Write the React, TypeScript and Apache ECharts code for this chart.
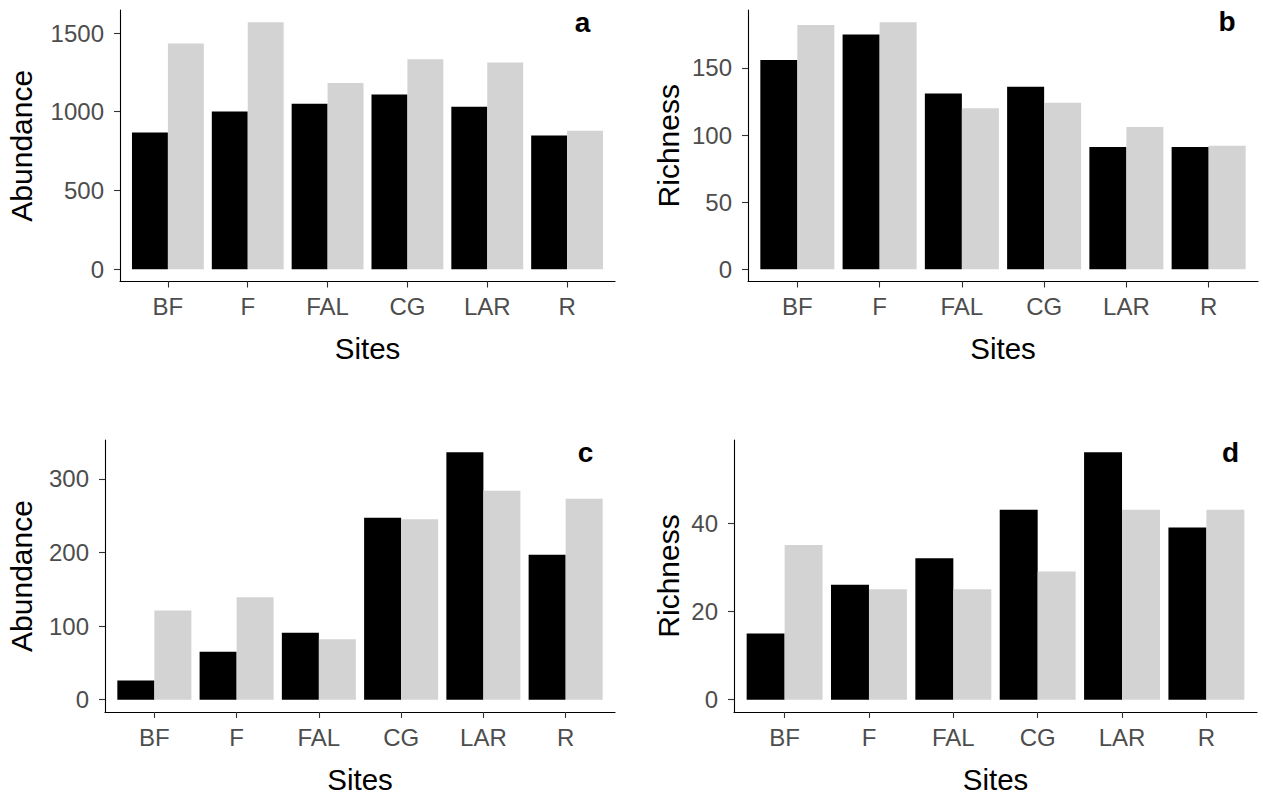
import React, { useEffect, useRef } from "react";
import * as echarts from "echarts";

const sites = ["BF", "F", "FAL", "CG", "LAR", "R"];

const abundanceA1 = [868, 1002, 1051, 1110, 1032, 849];
const abundanceA2 = [1434, 1568, 1182, 1333, 1313, 879];
const richnessB1 = [156, 175, 131, 136, 91, 91];
const richnessB2 = [182, 184, 120, 124, 106, 92];
const abundanceC1 = [26, 65, 91, 247, 336, 197];
const abundanceC2 = [121, 139, 82, 245, 284, 273];
const richnessD1 = [15, 26, 32, 43, 56, 39];
const richnessD2 = [35, 25, 25, 29, 43, 43];

const ticksA = [0, 500, 1000, 1500];
const ticksB = [0, 50, 100, 150];
const ticksC = [0, 100, 200, 300];
const ticksD = [0, 20, 40];

const FONT = "'Liberation Sans', Arial, Helvetica, sans-serif";

const panels = [
  { left: 120, top: 10, width: 495, height: 271.5, yName: "Abundance", nameGap: 84, ticks: ticksA, s1: abundanceA1, s2: abundanceA2, letter: "a", lx: 582.5, ly: 22 },
  { left: 748, top: 10, width: 510, height: 271.5, yName: "Richness", nameGap: 65, ticks: ticksB, s1: richnessB1, s2: richnessB2, letter: "b", lx: 1227, ly: 21 },
  { left: 105, top: 440, width: 510, height: 272, yName: "Abundance", nameGap: 69, ticks: ticksC, s1: abundanceC1, s2: abundanceC2, letter: "c", lx: 585.5, ly: 452 },
  { left: 734, top: 440, width: 523, height: 272, yName: "Richness", nameGap: 51, ticks: ticksD, s1: richnessD1, s2: richnessD2, letter: "d", lx: 1230.5, ly: 452 },
];

const catPositions = sites.map((_, i) => i + 1);

export default function App() {
  const ref = useRef<HTMLDivElement>(null);
  useEffect(() => {
    if (!ref.current) return;
    const chart = echarts.init(ref.current, undefined, { renderer: "svg" });
    const grids: any[] = [];
    const xAxes: any[] = [];
    const yAxes: any[] = [];
    const series: any[] = [];
    const graphics: any[] = [];
    panels.forEach((p, i) => {
      const dataMax = Math.max(...p.s1, ...p.s2);
      grids.push({ left: p.left, top: p.top, width: p.width, height: p.height, containLabel: false });
      xAxes.push({
        type: "value",
        gridIndex: i,
        min: 0.4,
        max: 6.6,
        splitLine: { show: false },
        axisLine: { show: true, onZero: false, lineStyle: { color: "#000", width: 1.1 } },
        axisTick: { show: true, length: 6, customValues: catPositions, lineStyle: { color: "#333", width: 1.1 } },
        axisLabel: {
          customValues: catPositions,
          formatter: (v: number) => sites[Math.round(v) - 1] ?? "",
          margin: 13,
          fontSize: 24,
          color: "#4D4D4D",
          fontFamily: FONT,
        },
        name: "Sites",
        nameLocation: "middle",
        nameGap: 52,
        nameTextStyle: { fontSize: 29.5, color: "#000", fontFamily: FONT },
      });
      yAxes.push({
        type: "value",
        gridIndex: i,
        min: -0.05 * dataMax,
        max: 1.05 * dataMax,
        splitLine: { show: false },
        axisLine: { show: true, onZero: false, lineStyle: { color: "#000", width: 1.1 } },
        axisTick: { show: true, length: 6, customValues: p.ticks, lineStyle: { color: "#333", width: 1.1 } },
        axisLabel: {
          customValues: p.ticks,
          formatter: (v: number) => String(v),
          margin: 16,
          fontSize: 24,
          color: "#4D4D4D",
          fontFamily: FONT,
        },
        name: p.yName,
        nameLocation: "middle",
        nameGap: p.nameGap,
        nameTextStyle: { fontSize: 30, color: "#000", fontFamily: FONT },
      });
      series.push({
        type: "bar",
        xAxisIndex: i,
        yAxisIndex: i,
        data: p.s1.map((v, j) => [catPositions[j], v]),
        barWidth: "45%",
        barGap: "0%",
        itemStyle: { color: "#000000" },
      });
      series.push({
        type: "bar",
        xAxisIndex: i,
        yAxisIndex: i,
        data: p.s2.map((v, j) => [catPositions[j], v]),
        barWidth: "45%",
        barGap: "0%",
        itemStyle: { color: "#D3D3D3" },
      });
      graphics.push({
        type: "text",
        x: p.lx,
        y: p.ly,
        style: {
          text: p.letter,
          fontSize: 28,
          fontWeight: "bold",
          fontFamily: FONT,
          fill: "#000",
          align: "center",
          verticalAlign: "middle",
        },
      });
    });
    chart.setOption({
      animation: false,
      backgroundColor: "#fff",
      grid: grids,
      xAxis: xAxes,
      yAxis: yAxes,
      series,
      graphic: graphics,
    });
    return () => chart.dispose();
  }, []);
  return (
    <div
      ref={ref}
      style={{ position: "fixed", left: 0, top: 0, width: 1263, height: 798, background: "#fff" }}
    />
  );
}
